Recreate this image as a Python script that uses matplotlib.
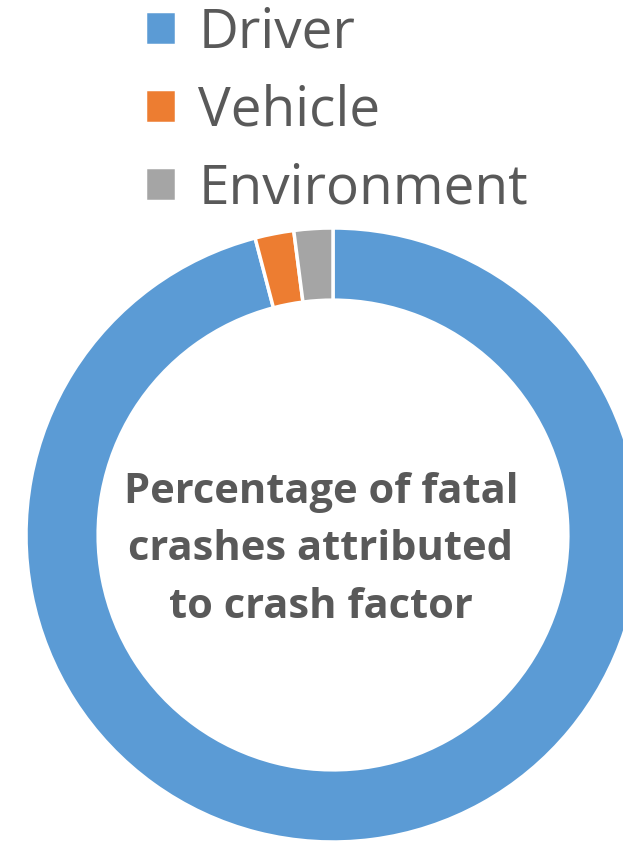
import matplotlib.pyplot as plt

labels = ['Driver', 'Vehicle', 'Environment']
values = [94, 2, 2]
colors = ['#5B9BD5', '#ED7D31', '#A5A5A5']
center_text = 'Percentage of fatal\ncrashes attributed\nto crash factor'

W, H = 623, 843
fig = plt.figure(figsize=(W / 100, H / 100), dpi=100)
ax = fig.add_axes([0, 0, 1, 1])

# donut, centre and radius in pixel units (chart is cropped on right/bottom)
cx, cy, r = 333, H - 535, 307
wedges, _ = ax.pie(values, colors=colors, startangle=90, counterclock=False,
                   center=(cx, cy), radius=r,
                   wedgeprops=dict(width=r * 0.235, edgecolor='white', linewidth=2.5))
ax.set_xlim(0, W)
ax.set_ylim(0, H)
ax.set_aspect('equal')
ax.axis('off')

ax.text(321, H - 550, center_text, ha='center', va='center', fontsize=30,
        fontweight='bold', color='#595959', family='Open Sans', linespacing=1.52)

fig.legend(wedges, labels, loc='upper left', bbox_to_anchor=(145 / W, 1 - 5 / H),
           frameon=False, prop={'family': 'Open Sans', 'size': 39.5},
           labelcolor='#595959', handlelength=0.57, handleheight=0.57,
           handletextpad=0.4, labelspacing=0.42, borderaxespad=0, borderpad=0)

fig.savefig('out.png', dpi=100)
